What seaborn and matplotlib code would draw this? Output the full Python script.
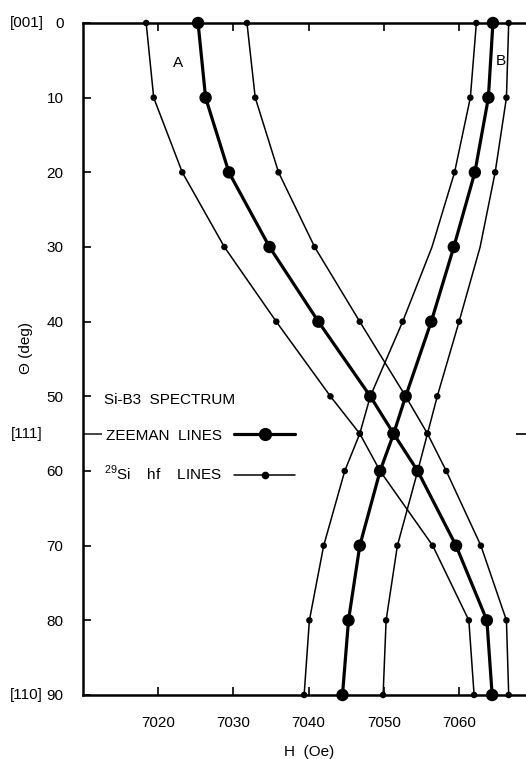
import numpy as np
import pandas as pd
import matplotlib
matplotlib.use("Agg")
import matplotlib.pyplot as plt
import matplotlib.transforms as mtransforms
from matplotlib.lines import Line2D
import seaborn as sns

# ---------------- data ----------------
theta = [0, 10, 20, 30, 40, 50, 55, 60, 70, 80, 90]

a_zeeman = [7025.3, 7026.3, 7029.4, 7034.8, 7041.3, 7048.2, 7051.3, 7054.5, 7059.6, 7063.7, 7064.4]
a_hf_low = [7018.4, 7019.4, 7023.2, 7028.8, 7035.7, 7042.9, 7046.8, 7049.5, 7056.5, 7061.3, 7062.0]
a_hf_high = [7031.8, 7032.9, 7036.0, 7040.8, 7046.8, 7052.9, 7055.8, 7058.3, 7062.9, 7066.3, 7066.6]

b_zeeman = [7064.5, 7063.9, 7062.1, 7059.3, 7056.3, 7052.9, 7051.3, 7049.5, 7046.8, 7045.3, 7044.5]
b_hf_low = [7062.3, 7061.5, 7059.4, 7056.4, 7052.5, 7048.2, 7046.8, 7044.8, 7042.0, 7040.1, 7039.4]
b_hf_high = [7066.6, 7066.3, 7064.8, 7062.8, 7060.0, 7057.1, 7055.8, 7054.5, 7051.8, 7050.3, 7049.9]

# which measured points carry a dot (B hf lines have no dot at 30 deg)
all_marked = [True] * 11
b_hf_marked = [True, True, True, False, True, True, True, True, True, True, True]

x_ticks = [7020, 7030, 7040, 7050, 7060]
y_ticks = [0, 10, 20, 30, 40, 50, 60, 70, 80, 90]
direction_labels = ["[001]", "[111]", "[110]"]
direction_theta = [0, 55, 90]
curve_names = ["A", "B"]
curve_label_H = [7022.7, 7065.5]
curve_label_theta = [5.4, 5.1]

# ---------------- build long table ----------------
curves = [
    ("A", "zeeman", a_zeeman, all_marked),
    ("A_lo", "hf", a_hf_low, all_marked),
    ("A_hi", "hf", a_hf_high, all_marked),
    ("B", "zeeman", b_zeeman, all_marked),
    ("B_lo", "hf", b_hf_low, b_hf_marked),
    ("B_hi", "hf", b_hf_high, b_hf_marked),
]
rows = []
for name, kind, vals, mk in curves:
    for t, h, m in zip(theta, vals, mk):
        rows.append({"curve": name, "kind": kind, "theta": t, "H": h, "marked": m})
df = pd.DataFrame(rows)

# ---------------- style ----------------
sns.set_theme(style="white")
plt.rcParams["font.family"] = ["Liberation Sans", "DejaVu Sans"]
plt.rcParams["mathtext.fontset"] = "custom"
plt.rcParams["mathtext.rm"] = "Liberation Sans"
plt.rcParams["text.color"] = "black"
plt.rcParams["axes.labelcolor"] = "black"

FS = 11

fig = plt.figure(figsize=(5.26, 7.59), dpi=100)
ax = fig.add_axes([83 / 526, 1 - 695 / 759, 1 - 83 / 526, 672 / 759])

sns.lineplot(data=df, x="H", y="theta", units="curve", estimator=None, sort=False,
             size="kind", sizes={"zeeman": 2.3, "hf": 1.1}, color="black",
             legend=False, ax=ax, orient="y")
sns.scatterplot(data=df[df["marked"]], x="H", y="theta", size="kind",
                sizes={"zeeman": 80, "hf": 22}, color="black", linewidth=0,
                legend=False, ax=ax, clip_on=False, zorder=4)

ax.set_xlim(7010, 7068.9)
ax.set_ylim(90, 0)

for side in ["left", "top", "bottom"]:
    ax.spines[side].set_visible(True)
    ax.spines[side].set_color("black")
    ax.spines[side].set_linewidth(1.8)
ax.spines["right"].set_visible(False)

ax.set_xticks(x_ticks)
ax.set_xticklabels([str(v) for v in x_ticks])
ax.set_yticks(y_ticks)
ax.set_yticklabels([str(v) for v in y_ticks])
ax.set_yticks([55], minor=True)
ax.tick_params(axis="x", which="major", direction="in", length=6, width=1.2,
               top=True, bottom=True, labeltop=False, pad=15, labelsize=FS, colors="black")
ax.tick_params(axis="y", which="major", direction="in", length=6, width=1.2,
               left=True, right=False, pad=14, labelsize=FS, colors="black")
ax.tick_params(axis="y", which="minor", direction="in", length=14, width=1.2,
               left=True, right=False)

sec = ax.secondary_yaxis("right")
sec.set_yticks([55])
sec.set_yticklabels([""])
sec.tick_params(direction="in", length=7, width=1.2, colors="black")
sec.spines["right"].set_visible(False)

ax.set_xlabel("H  (Oe)", fontsize=FS, color="black")
ax.xaxis.set_label_coords(0.51, -0.075)
ax.set_ylabel("Θ (deg)", fontsize=FS, color="black")
ax.yaxis.set_label_coords(-0.112, 0.517)

trans = mtransforms.blended_transform_factory(ax.transAxes, ax.transData)
for lab, t in zip(direction_labels, direction_theta):
    ax.text(-0.127, t, lab, transform=trans, ha="center", va="center",
            fontsize=FS, color="black")

for name, h, t in zip(curve_names, curve_label_H, curve_label_theta):
    ax.text(h, t, name, ha="center", va="center", fontsize=FS, color="black")

handles = [
    Line2D([], [], color="black", lw=2.3, marker="o", markersize=8.5),
    Line2D([], [], color="black", lw=1.1, marker="o", markersize=4.5),
]
labels = ["ZEEMAN  LINES", r"$^{29}$Si    hf    LINES"]
leg = ax.legend(handles, labels, title="Si-B3  SPECTRUM", loc="upper left",
                bbox_to_anchor=(0.047, 0.449), frameon=False, markerfirst=False,
                handlelength=4.0, handletextpad=0.8, labelspacing=1.4,
                borderpad=0, borderaxespad=0, fontsize=FS, title_fontsize=FS,
                alignment="left")

fig.savefig("out.png", dpi=100)
